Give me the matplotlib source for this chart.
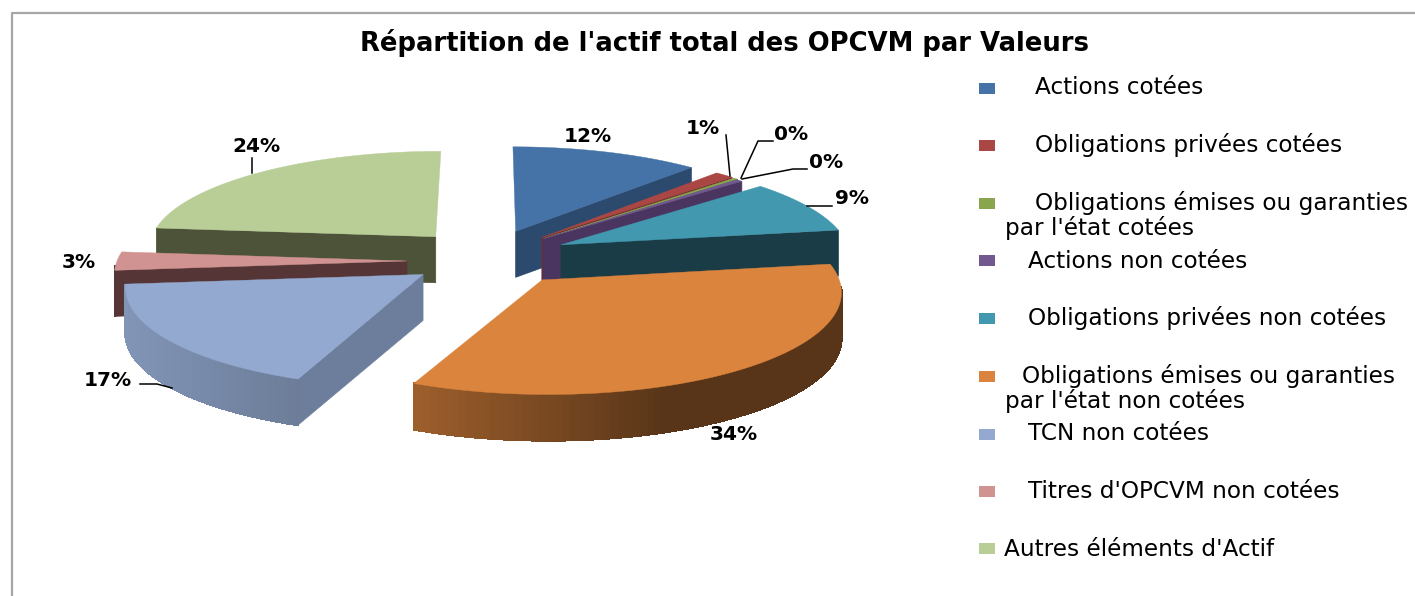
import numpy as np
import matplotlib
matplotlib.use('Agg')
import matplotlib.pyplot as plt
from matplotlib.patches import Rectangle

# Donnees
titre = "Répartition de l'actif total des OPCVM par Valeurs"
valeurs = [11.8, 1.2, 0.3, 0.4, 8.8, 34.2, 16.8, 3.0, 23.5]
couleurs = ['#4573a7', '#aa4643', '#89a54e', '#71588f', '#4198af',
            '#db843d', '#93a9cf', '#d19392', '#b9cd96']
coupes = ['#2c4a6e', '#6e2d2b', '#586a32', '#4a3560', '#1a3c47',
          '#8a5225', '#6d7e9c', '#553536', '#4d5338']
legende = [["Actions cotées"], ["Obligations privées cotées"],
           ["Obligations émises ou garanties", "par l'état cotées"],
           ["Actions non cotées"], ["Obligations privées non cotées"],
           ["Obligations émises ou garanties", "par l'état non cotées"],
           ["TCN non cotées"], ["Titres d'OPCVM non cotées"],
           ["Autres éléments d'Actif"]]

# Parametres de la projection (pixels)
cx, cy = 490, 257
R, Rq = 290, 98
k = 0.10
explosion = 0.30
epaisseur = 46
# petits decalages par part, pour coller a l'original
decal_x = [-5, -8, -9, -11, -7, -2, 5, 4, 3]
decal_y = [1, 1, 1, 1, 0, -1, 0, 4, 1]
retouche_debut = {6: np.radians(-3)}


def projette(X, Y):
    s = 1 / (1 - k * Y)
    return cx + R * X * s, cy + Rq * Y * s


def assombrit(c, f):
    return tuple(np.array(matplotlib.colors.to_rgb(c)) * f)


fig = plt.figure(figsize=(14.15, 5.96), dpi=100)
ax = fig.add_axes([0, 0, 1, 1])
ax.set_xlim(0, 1415)
ax.set_ylim(596, 0)
ax.axis('off')

# Cadre
ax.plot([12, 12, 1415], [596, 13, 13], color='#a6a6a6', lw=1.6)

# Parts : angles depuis midi, sens horaire
bornes = np.concatenate([[0], np.cumsum(valeurs)]) / sum(valeurs) * 2 * np.pi
ordre = [8, 0, 1, 2, 3, 4, 7, 6, 5]

for rang, i in enumerate(ordre):
    a0, a1 = bornes[i], bornes[i + 1]
    m = (a0 + a1) / 2
    a0 = a0 + retouche_debut.get(i, 0)
    ox, oy = explosion * np.sin(m), -explosion * np.cos(m)
    t = np.linspace(a0, a1, 90)
    xs, ys = projette(ox + np.sin(t), oy - np.cos(t))
    xs, ys = xs + decal_x[i], ys + decal_y[i]
    xa, ya = projette(ox, oy)
    xa, ya = xa + decal_x[i], ya + decal_y[i]
    z = rang * 3

    # Faces de coupe visibles seulement
    if np.sin(a0) < -0.01:
        ax.fill([xa, xs[0], xs[0], xa],
                [ya, ys[0], ys[0] + epaisseur, ya + epaisseur],
                color=coupes[i], lw=0.5, zorder=z + 1)
    if np.sin(a1) > 0.01:
        ax.fill([xa, xs[-1], xs[-1], xa],
                [ya, ys[-1], ys[-1] + epaisseur, ya + epaisseur],
                color=coupes[i], lw=0.5, zorder=z + 1)

    # Paroi exterieure avec degrade, seulement sur le devant
    for j in range(len(t) - 1):
        if np.cos((t[j] + t[j + 1]) / 2) > -0.05:
            continue
        frac = (xs[j] - xs.min()) / max(xs.max() - xs.min(), 1)
        if i == 5:
            coul = assombrit(couleurs[i], 0.72 - 0.32 * min(frac / 0.6, 1))
        elif i == 7:
            coul = coupes[i]
        else:
            coul = assombrit(couleurs[i], 0.88 - 0.14 * frac)
        ax.fill([xs[j], xs[j + 1], xs[j + 1], xs[j]],
                [ys[j], ys[j + 1], ys[j + 1] + epaisseur, ys[j] + epaisseur],
                facecolor=coul, edgecolor=coul, lw=1, antialiased=False,
                zorder=z + 2)

    # Dessus
    ax.fill(np.r_[xa, xs], np.r_[ya, ys], color=couleurs[i], lw=0.3, zorder=z + 3)

# Etiquettes de pourcentage
pos_etiq = [(588, 136), (703, 128), (791, 135), (826, 163), (852, 199),
            (734, 435), (108, 380), (79, 262), (256, 146)]
for v, (x, y) in zip(valeurs, pos_etiq):
    ax.text(x, y, f"{v:.0f}%", ha='center', va='center', fontsize=14.5,
            fontweight='bold', color='black', zorder=60)

# Traits de rappel
traits = [([726, 730], [135, 176]),
          ([741, 758, 773], [178, 141, 141]),
          ([742, 793, 807], [179, 169, 169]),
          ([807, 832], [206, 206]),
          ([140, 157, 172], [384, 384, 388]),
          ([252, 252], [158, 173])]
for xt, yt in traits:
    ax.plot(xt, yt, color='black', lw=1.1, zorder=61)

# Titre
ax.text(725, 43, titre, ha='center', va='center', fontsize=18.6,
        fontweight='bold', color='black')

# Legende
y_carres = [88, 145, 203, 260, 318, 376, 434, 491, 548]
x_textes = [[1035], [1035], [1035, 1005], [1028], [1028], [1022, 1005],
            [1028], [1028], [1004]]
y_textes = [[88], [145], [203, 228], [261], [318], [376, 401], [434], [491], [549]]
for c, yc, lignes, xl, yl in zip(couleurs, y_carres, legende, x_textes, y_textes):
    ax.add_patch(Rectangle((979, yc - 5.5), 16, 11, color=c, lw=0))
    for s, x, y in zip(lignes, xl, yl):
        ax.text(x, y, s, ha='left', va='center', fontsize=16.7, color='black')

fig.savefig('out.png', dpi=100)
